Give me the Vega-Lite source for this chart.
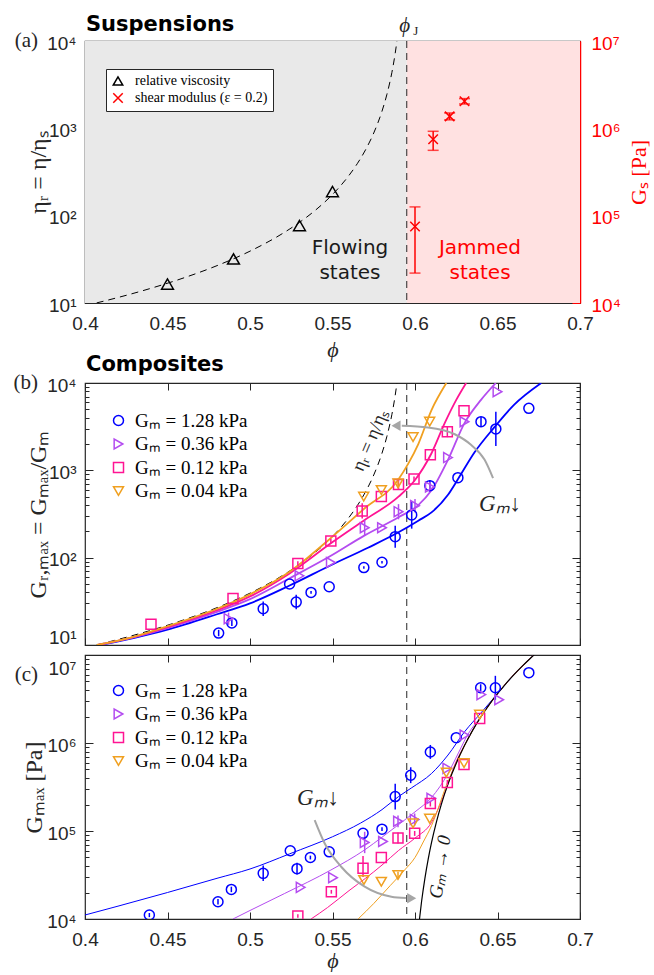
{
"$schema": "https://vega.github.io/schema/vega-lite/v6.json",
"padding": {"left": 12, "top": 13, "right": 0, "bottom": 0},
"spacing": 10,
"bounds": "flush",
"resolve": {"scale": {"color": "independent", "shape": "independent", "stroke": "independent"}},
"config": {
  "view": {"stroke": "#262626", "strokeWidth": 1.2},
  "axis": {"grid": false, "domain": false, "labelFont": "Liberation Sans", "labelFontSize": 19, "labelColor": "#262626", "tickColor": "#262626", "tickWidth": 1, "titleFont": "Liberation Serif", "titleFontSize": 24, "titleFontWeight": "normal", "titleColor": "#262626"},
  "text": {"font": "Liberation Serif"}
},
"datasets": {
  "eta": [{"phi":0.4,"v":9.31},{"phi":0.407,"v":10.02},{"phi":0.42,"v":11.56},{"phi":0.44,"v":14.74},{"phi":0.46,"v":19.43},{"phi":0.48,"v":26.77},{"phi":0.5,"v":39.23},{"phi":0.52,"v":62.94},{"phi":0.53,"v":83.8},{"phi":0.54,"v":117},{"phi":0.55,"v":174.8},{"phi":0.56,"v":289},{"phi":0.565,"v":393.4},{"phi":0.57,"v":566.4},{"phi":0.575,"v":885},{"phi":0.58,"v":1573},{"phi":0.583,"v":2458},{"phi":0.586,"v":4370},{"phi":0.588,"v":7225},{"phi":0.589,"v":9834},{"phi":0.5892,"v":10520}],
  "visc": [{"phi":0.45,"v":16.5,"series":"relative viscosity"},{"phi":0.49,"v":32,"series":"relative viscosity"},{"phi":0.53,"v":77,"series":"relative viscosity"},{"phi":0.55,"v":189,"series":"relative viscosity"}],
  "gs": [{"phi":0.6,"v":75000,"lo":22000,"hi":126000,"series":"shear modulus (ε = 0.2)"},{"phi":0.611,"v":750000,"lo":560000,"hi":925000,"series":"shear modulus (ε = 0.2)"},{"phi":0.621,"v":1370000,"lo":1250000,"hi":1500000,"series":"shear modulus (ε = 0.2)"},{"phi":0.63,"v":2040000,"lo":1900000,"hi":2190000,"series":"shear modulus (ε = 0.2)"}],
  "bPts": [
    {"g":"1.28","phi":0.481,"v":13.7,"lo":12.6,"hi":14.9},{"g":"1.28","phi":0.489,"v":17.9,"lo":16.5,"hi":19.4},{"g":"1.28","phi":0.508,"v":26,"lo":21.5,"hi":31.5},{"g":"1.28","phi":0.524,"v":50},{"g":"1.28","phi":0.528,"v":31,"lo":25.6,"hi":37.5},{"g":"1.28","phi":0.537,"v":40,"lo":38.5,"hi":41.5},{"g":"1.28","phi":0.548,"v":46.5},{"g":"1.28","phi":0.569,"v":77,"lo":74.5,"hi":79.5},{"g":"1.28","phi":0.58,"v":88.5,"lo":85.5,"hi":91.5},{"g":"1.28","phi":0.588,"v":174,"lo":130,"hi":232},{"g":"1.28","phi":0.598,"v":309,"lo":215,"hi":440},{"g":"1.28","phi":0.609,"v":668,"lo":580,"hi":770},{"g":"1.28","phi":0.626,"v":824},{"g":"1.28","phi":0.64,"v":3610,"lo":3200,"hi":4070},{"g":"1.28","phi":0.649,"v":2980,"lo":1900,"hi":4700},{"g":"1.28","phi":0.669,"v":5130},
    {"g":"0.36","phi":0.487,"v":20,"lo":17,"hi":23.5},{"g":"0.36","phi":0.53,"v":62},{"g":"0.36","phi":0.549,"v":88},{"g":"0.36","phi":0.5695,"v":220,"lo":180,"hi":268},{"g":"0.36","phi":0.58,"v":220},{"g":"0.36","phi":0.59,"v":336,"lo":275,"hi":410},{"g":"0.36","phi":0.6,"v":394,"lo":330,"hi":470},{"g":"0.36","phi":0.609,"v":645,"lo":565,"hi":735},{"g":"0.36","phi":0.62,"v":1400},{"g":"0.36","phi":0.63,"v":3600},{"g":"0.36","phi":0.65,"v":7950},
    {"g":"0.12","phi":0.44,"v":17.3},{"g":"0.12","phi":0.4897,"v":34},{"g":"0.12","phi":0.529,"v":86,"lo":81,"hi":91},{"g":"0.12","phi":0.549,"v":155,"lo":146,"hi":165},{"g":"0.12","phi":0.568,"v":343,"lo":280,"hi":420},{"g":"0.12","phi":0.5796,"v":500},{"g":"0.12","phi":0.59,"v":690,"lo":600,"hi":795},{"g":"0.12","phi":0.5994,"v":795,"lo":745,"hi":850},{"g":"0.12","phi":0.6093,"v":1510},{"g":"0.12","phi":0.6196,"v":2770,"lo":2400,"hi":3200},{"g":"0.12","phi":0.6297,"v":4800},
    {"g":"0.04","phi":0.5689,"v":500},{"g":"0.04","phi":0.5796,"v":596},{"g":"0.04","phi":0.5897,"v":710,"lo":625,"hi":805},{"g":"0.04","phi":0.5988,"v":2400},{"g":"0.04","phi":0.6089,"v":3610}
  ],
  "bCurves": [
    {"g":"1.28","phi":0.409,"v":10},{"g":"1.28","phi":0.43,"v":12.1},{"g":"1.28","phi":0.45,"v":15},{"g":"1.28","phi":0.48,"v":22.5},{"g":"1.28","phi":0.5,"v":30},{"g":"1.28","phi":0.524,"v":48},{"g":"1.28","phi":0.549,"v":82},{"g":"1.28","phi":0.5715,"v":130},{"g":"1.28","phi":0.59,"v":195},{"g":"1.28","phi":0.602,"v":265},{"g":"1.28","phi":0.61,"v":330},{"g":"1.28","phi":0.62,"v":525},{"g":"1.28","phi":0.626,"v":790},{"g":"1.28","phi":0.636,"v":1600},{"g":"1.28","phi":0.648,"v":3100},{"g":"1.28","phi":0.66,"v":5620},{"g":"1.28","phi":0.6765,"v":10000},
    {"g":"0.36","phi":0.408,"v":10},{"g":"0.36","phi":0.43,"v":12.3},{"g":"0.36","phi":0.45,"v":15.6},{"g":"0.36","phi":0.48,"v":24},{"g":"0.36","phi":0.5,"v":33.5},{"g":"0.36","phi":0.524,"v":58},{"g":"0.36","phi":0.549,"v":105},{"g":"0.36","phi":0.5695,"v":180},{"g":"0.36","phi":0.59,"v":290},{"g":"0.36","phi":0.602,"v":400},{"g":"0.36","phi":0.61,"v":590},{"g":"0.36","phi":0.62,"v":1320},{"g":"0.36","phi":0.63,"v":3470},{"g":"0.36","phi":0.64,"v":6400},{"g":"0.36","phi":0.649,"v":10000},
    {"g":"0.12","phi":0.4075,"v":10},{"g":"0.12","phi":0.43,"v":12.4},{"g":"0.12","phi":0.45,"v":16},{"g":"0.12","phi":0.48,"v":25},{"g":"0.12","phi":0.5,"v":36},{"g":"0.12","phi":0.524,"v":66},{"g":"0.12","phi":0.549,"v":146},{"g":"0.12","phi":0.5695,"v":270},{"g":"0.12","phi":0.59,"v":500},{"g":"0.12","phi":0.6,"v":775},{"g":"0.12","phi":0.61,"v":1570},{"g":"0.12","phi":0.618,"v":3470},{"g":"0.12","phi":0.625,"v":6400},{"g":"0.12","phi":0.631,"v":10000},
    {"g":"0.04","phi":0.4072,"v":10},{"g":"0.04","phi":0.43,"v":12.5},{"g":"0.04","phi":0.45,"v":16.4},{"g":"0.04","phi":0.48,"v":26},{"g":"0.04","phi":0.5,"v":38},{"g":"0.04","phi":0.524,"v":69},{"g":"0.04","phi":0.549,"v":168},{"g":"0.04","phi":0.5695,"v":368},{"g":"0.04","phi":0.5897,"v":775},{"g":"0.04","phi":0.596,"v":1200},{"g":"0.04","phi":0.602,"v":2000},{"g":"0.04","phi":0.61,"v":4900},{"g":"0.04","phi":0.619,"v":10000}
  ],
  "cPts": [
    {"g":"1.28","phi":0.439,"v":11100,"lo":10500,"hi":11700},{"g":"1.28","phi":0.4806,"v":15700,"lo":14600,"hi":16900},{"g":"1.28","phi":0.4887,"v":21700,"lo":20200,"hi":23300},{"g":"1.28","phi":0.508,"v":33000,"lo":27000,"hi":40500},{"g":"1.28","phi":0.5244,"v":59700},{"g":"1.28","phi":0.5285,"v":37300,"lo":32000,"hi":43500},{"g":"1.28","phi":0.5366,"v":50000,"lo":47500,"hi":52500},{"g":"1.28","phi":0.548,"v":58000},{"g":"1.28","phi":0.5685,"v":94000},{"g":"1.28","phi":0.58,"v":105000,"lo":100000,"hi":110000},{"g":"1.28","phi":0.588,"v":246000,"lo":175000,"hi":345000},{"g":"1.28","phi":0.5974,"v":430000,"lo":350000,"hi":530000},{"g":"1.28","phi":0.6093,"v":790000,"lo":660000,"hi":950000},{"g":"1.28","phi":0.625,"v":1150000},{"g":"1.28","phi":0.6398,"v":4250000,"lo":3900000,"hi":4650000},{"g":"1.28","phi":0.6487,"v":4250000,"lo":3100000,"hi":5800000},{"g":"1.28","phi":0.669,"v":6300000},
    {"g":"0.36","phi":0.5307,"v":22900},{"g":"0.36","phi":0.5503,"v":29500},{"g":"0.36","phi":0.5695,"v":74000,"lo":56000,"hi":98000},{"g":"0.36","phi":0.5806,"v":76000},{"g":"0.36","phi":0.5897,"v":129000,"lo":110000,"hi":150000},{"g":"0.36","phi":0.5998,"v":135000,"lo":115000,"hi":158000},{"g":"0.36","phi":0.6099,"v":235000},{"g":"0.36","phi":0.6196,"v":515000},{"g":"0.36","phi":0.63,"v":1230000},{"g":"0.36","phi":0.6402,"v":3550000},{"g":"0.36","phi":0.651,"v":3100000},
    {"g":"0.12","phi":0.529,"v":10800,"lo":10300,"hi":11300},{"g":"0.12","phi":0.5493,"v":20400,"lo":19400,"hi":21400},{"g":"0.12","phi":0.5685,"v":37700,"lo":30000,"hi":52000},{"g":"0.12","phi":0.5796,"v":50000},{"g":"0.12","phi":0.5897,"v":83000,"lo":72000,"hi":96000},{"g":"0.12","phi":0.5998,"v":94000,"lo":88000,"hi":100000},{"g":"0.12","phi":0.6093,"v":205000,"lo":190000,"hi":220000},{"g":"0.12","phi":0.6196,"v":355000,"lo":330000,"hi":380000},{"g":"0.12","phi":0.6297,"v":570000},{"g":"0.12","phi":0.6392,"v":1900000},
    {"g":"0.04","phi":0.569,"v":27700},{"g":"0.04","phi":0.5796,"v":26500},{"g":"0.04","phi":0.5897,"v":31600,"lo":29000,"hi":34500},{"g":"0.04","phi":0.5988,"v":122000},{"g":"0.04","phi":0.6089,"v":138000},{"g":"0.04","phi":0.619,"v":460000},{"g":"0.04","phi":0.6297,"v":590000},{"g":"0.04","phi":0.6392,"v":2100000}
  ],
  "cCurves": [
    {"g":"1.28","phi":0.4,"v":11100},{"g":"1.28","phi":0.42,"v":14000},{"g":"1.28","phi":0.45,"v":20000},{"g":"1.28","phi":0.48,"v":29000},{"g":"1.28","phi":0.5,"v":37000},{"g":"1.28","phi":0.524,"v":55000},{"g":"1.28","phi":0.55,"v":86000},{"g":"1.28","phi":0.567,"v":123000},{"g":"1.28","phi":0.58,"v":175000},{"g":"1.28","phi":0.59,"v":246000},{"g":"1.28","phi":0.598,"v":310000},{"g":"1.28","phi":0.61,"v":450000},{"g":"1.28","phi":0.62,"v":730000},{"g":"1.28","phi":0.63,"v":1340000},{"g":"1.28","phi":0.64,"v":2200000},{"g":"1.28","phi":0.65,"v":3630000},{"g":"1.28","phi":0.66,"v":5990000},{"g":"1.28","phi":0.665,"v":7480000},{"g":"1.28","phi":0.67,"v":9200000},{"g":"1.28","phi":0.6725,"v":10150000},
    {"g":"0.36","phi":0.4897,"v":10000},{"g":"0.36","phi":0.5,"v":12500},{"g":"0.36","phi":0.521,"v":19500},{"g":"0.36","phi":0.549,"v":36000},{"g":"0.36","phi":0.5695,"v":61000},{"g":"0.36","phi":0.58,"v":85000},{"g":"0.36","phi":0.59,"v":118000},{"g":"0.36","phi":0.6,"v":165000},{"g":"0.36","phi":0.61,"v":240000},{"g":"0.36","phi":0.62,"v":450000},{"g":"0.36","phi":0.626,"v":750000},{"g":"0.36","phi":0.632,"v":1250000},{"g":"0.36","phi":0.64,"v":2000000},{"g":"0.36","phi":0.645,"v":2730000},{"g":"0.36","phi":0.65,"v":3630000},{"g":"0.36","phi":0.66,"v":5990000},{"g":"0.36","phi":0.665,"v":7480000},{"g":"0.36","phi":0.67,"v":9200000},{"g":"0.36","phi":0.6725,"v":10150000},
    {"g":"0.12","phi":0.537,"v":10000},{"g":"0.12","phi":0.547,"v":13500},{"g":"0.12","phi":0.56,"v":21000},{"g":"0.12","phi":0.57,"v":29000},{"g":"0.12","phi":0.58,"v":41000},{"g":"0.12","phi":0.59,"v":60000},{"g":"0.12","phi":0.6,"v":83000},{"g":"0.12","phi":0.61,"v":125000},{"g":"0.12","phi":0.618,"v":270000},{"g":"0.12","phi":0.624,"v":560000},{"g":"0.12","phi":0.63,"v":940000},{"g":"0.12","phi":0.635,"v":1400000},{"g":"0.12","phi":0.64,"v":1990000},{"g":"0.12","phi":0.645,"v":2730000},{"g":"0.12","phi":0.65,"v":3630000},{"g":"0.12","phi":0.66,"v":5990000},{"g":"0.12","phi":0.665,"v":7480000},{"g":"0.12","phi":0.67,"v":9200000},{"g":"0.12","phi":0.6725,"v":10150000},
    {"g":"0.04","phi":0.5655,"v":10000},{"g":"0.04","phi":0.575,"v":15000},{"g":"0.04","phi":0.585,"v":24000},{"g":"0.04","phi":0.5937,"v":36000},{"g":"0.04","phi":0.6,"v":50000},{"g":"0.04","phi":0.605,"v":75000},{"g":"0.04","phi":0.61,"v":115000},{"g":"0.04","phi":0.614,"v":180000},{"g":"0.04","phi":0.619,"v":330000},{"g":"0.04","phi":0.625,"v":589000},{"g":"0.04","phi":0.63,"v":935000},{"g":"0.04","phi":0.635,"v":1400000},{"g":"0.04","phi":0.64,"v":1990000},{"g":"0.04","phi":0.645,"v":2730000},{"g":"0.04","phi":0.65,"v":3630000},{"g":"0.04","phi":0.66,"v":5990000},{"g":"0.04","phi":0.665,"v":7480000},{"g":"0.04","phi":0.67,"v":9200000},{"g":"0.04","phi":0.6725,"v":10150000}
  ],
  "black": [{"phi":0.6025,"v":9200},{"phi":0.604,"v":15900},{"phi":0.606,"v":29000},{"phi":0.608,"v":47900},{"phi":0.61,"v":73600},{"phi":0.613,"v":127000},{"phi":0.616,"v":202000},{"phi":0.62,"v":341000},{"phi":0.625,"v":589000},{"phi":0.63,"v":935000},{"phi":0.635,"v":1400000},{"phi":0.64,"v":1990000},{"phi":0.645,"v":2730000},{"phi":0.65,"v":3630000},{"phi":0.655,"v":4710000},{"phi":0.66,"v":5990000},{"phi":0.665,"v":7480000},{"phi":0.67,"v":9200000},{"phi":0.6725,"v":10150000}]
},
"vconcat": [
 {
  "width": 495, "height": 262,
  "resolve": {"scale": {"y": "independent"}, "axis": {"x": "independent", "y": "independent"}},
  "layer": [
     {"data": {"values": [{"a": 0.4, "b": 0.595}]}, "mark": {"type": "rect", "color": "#e9e9e9"}, "encoding": {"x": {"field": "a", "type": "quantitative", "scale": {"domain": [0.4, 0.7], "nice": false}, "axis": null}, "x2": {"field": "b"}}},
     {"data": {"values": [{"a": 0.595, "b": 0.7}]}, "mark": {"type": "rect", "color": "#ffe1e1"}, "encoding": {"x": {"field": "a", "type": "quantitative", "scale": {"domain": [0.4, 0.7], "nice": false}, "axis": null}, "x2": {"field": "b"}}},
     {"data": {"values": [{"a": 0.595}]}, "mark": {"type": "rule", "strokeDash": [7, 5], "color": "#262626", "strokeWidth": 1}, "encoding": {"x": {"field": "a", "type": "quantitative", "scale": {"domain": [0.4, 0.7], "nice": false}, "axis": {"orient": "bottom", "values": [0.4,0.45,0.5,0.55,0.6,0.65,0.7], "format": ".2~f", "tickSize": -7, "labelPadding": 18, "labelFlush": false, "labelOverlap": false, "title": "ϕ", "titleFontSize": 22, "titleFontStyle": "italic", "titlePadding": 6}}}},
     {"data": {"name": "eta"}, "mark": {"type": "line", "strokeDash": [7, 5], "color": "#000000", "strokeWidth": 1, "clip": true, "interpolate": "monotone"}, "encoding": {"x": {"field": "phi", "type": "quantitative", "scale": {"domain": [0.4, 0.7], "nice": false}, "axis": null}, "y": {"field": "v", "type": "quantitative", "scale": {"type": "log", "domain": [10, 10000], "nice": false}, "axis": {"orient": "left", "values": [10,20,30,40,50,60,70,80,90,100,200,300,400,500,600,700,800,900,1000,2000,3000,4000,5000,6000,7000,8000,9000,10000], "labelExpr": "datum.value==10?'10¹':datum.value==100?'10²':datum.value==1000?'10³':datum.value==10000?'10⁴':''", "tickSize": {"condition": {"test": "indexof([10,100,1000,10000,100000,1000000,10000000], datum.value) >= 0", "value": -8}, "value": -4}, "labelPadding": 17, "labelOverlap": false, "labelFlush": false, "labelOffset": 2, "title": "ηᵣ = η/ηₛ", "titlePadding": -4}}}},
     {"data": {"name": "visc"}, "mark": {"type": "point", "filled": false, "strokeWidth": 1.5, "size": 140, "opacity": 1}, "encoding": {"x": {"field": "phi", "type": "quantitative", "scale": {"domain": [0.4, 0.7], "nice": false}, "axis": null}, "y": {"field": "v", "type": "quantitative", "scale": {"type": "log", "domain": [10, 10000], "nice": false}, "axis": null},
       "color": {"field": "series", "type": "nominal", "scale": {"domain": ["relative viscosity", "shear modulus (ε = 0.2)"], "range": ["#000000", "#ff0000"]}, "legend": {"orient": "none", "legendX": 21, "legendY": 28, "title": null, "labelFont": "Liberation Serif", "labelFontSize": 14, "labelColor": "#000000", "symbolSize": 90, "symbolStrokeWidth": 1.5, "rowPadding": 1, "padding": 5, "strokeColor": "#262626", "fillColor": "#ffffff", "labelOffset": 10}},
       "shape": {"field": "series", "type": "nominal", "scale": {"domain": ["relative viscosity", "shear modulus (ε = 0.2)"], "range": ["triangle-up", "M-1,-1L1,1M-1,1L1,-1"]}, "legend": {"orient": "none", "legendX": 21, "legendY": 28, "title": null, "labelFont": "Liberation Serif", "labelFontSize": 14, "labelColor": "#000000", "symbolSize": 90, "symbolStrokeWidth": 1.5, "rowPadding": 1, "padding": 5, "strokeColor": "#262626", "fillColor": "#ffffff", "labelOffset": 10}}}},
     {"data": {"values": [{"phi": 0.5606, "v": 43, "t": "Flowing\nstates", "c": "f"}, {"phi": 0.6394, "v": 43, "t": "Jammed\nstates", "c": "j"}]}, "mark": {"type": "text", "font": "DejaVu Sans", "fontSize": 20, "lineBreak": "\n", "lineHeight": 25, "align": "center", "baseline": "middle"}, "encoding": {"x": {"field": "phi", "type": "quantitative", "scale": {"domain": [0.4, 0.7], "nice": false}, "axis": null}, "y": {"field": "v", "type": "quantitative", "scale": {"type": "log", "domain": [10, 10000], "nice": false}, "axis": null}, "text": {"field": "t"}, "fill": {"field": "c", "type": "nominal", "scale": {"domain": ["f", "j"], "range": ["#1a1a1a", "#ff0000"]}, "legend": null}}},
     {"data": {"values": [{"phi": 0.4, "v": 10000, "t": "(a)"}]}, "mark": {"type": "text", "fontSize": 21, "align": "right", "baseline": "middle", "dx": -47, "color": "#262626"}, "encoding": {"x": {"field": "phi", "type": "quantitative", "scale": {"domain": [0.4, 0.7], "nice": false}, "axis": null}, "y": {"field": "v", "type": "quantitative", "scale": {"type": "log", "domain": [10, 10000], "nice": false}, "axis": null}, "text": {"field": "t"}}},
     {"data": {"values": [{"phi": 0.4, "v": 13060, "t": "Suspensions"}]}, "mark": {"type": "text", "font": "DejaVu Sans", "fontWeight": "bold", "fontSize": 21, "align": "left", "baseline": "alphabetic", "dx": 1, "color": "#000000"}, "encoding": {"x": {"field": "phi", "type": "quantitative", "scale": {"domain": [0.4, 0.7], "nice": false}, "axis": null}, "y": {"field": "v", "type": "quantitative", "scale": {"type": "log", "domain": [10, 10000], "nice": false}, "axis": null}, "text": {"field": "t"}}},
     {"data": {"values": [{"phi": 0.595, "v": 14900, "t": "ϕ"}]}, "mark": {"type": "text", "fontSize": 21, "fontStyle": "italic", "align": "center", "baseline": "middle", "dx": -2, "color": "#262626"}, "encoding": {"x": {"field": "phi", "type": "quantitative", "scale": {"domain": [0.4, 0.7], "nice": false}, "axis": null}, "y": {"field": "v", "type": "quantitative", "scale": {"type": "log", "domain": [10, 10000], "nice": false}, "axis": null}, "text": {"field": "t"}}},
     {"data": {"values": [{"phi": 0.595, "v": 14900, "t": "J"}]}, "mark": {"type": "text", "fontSize": 13, "align": "center", "baseline": "middle", "dx": 9, "dy": 5, "color": "#262626"}, "encoding": {"x": {"field": "phi", "type": "quantitative", "scale": {"domain": [0.4, 0.7], "nice": false}, "axis": null}, "y": {"field": "v", "type": "quantitative", "scale": {"type": "log", "domain": [10, 10000], "nice": false}, "axis": null}, "text": {"field": "t"}}},
     {"data": {"name": "gs"}, "mark": {"type": "errorbar", "ticks": {"size": 11}, "color": "#ff0000", "thickness": 1.5}, "encoding": {"x": {"field": "phi", "type": "quantitative", "scale": {"domain": [0.4, 0.7], "nice": false}, "axis": null}, "y": {"field": "lo", "type": "quantitative", "scale": {"type": "log", "domain": [10000, 10000000], "nice": false}, "axis": null}, "y2": {"field": "hi"}}},
     {"data": {"name": "gs"}, "mark": {"type": "point", "filled": false, "strokeWidth": 1.5, "size": 90, "opacity": 1}, "encoding": {"x": {"field": "phi", "type": "quantitative", "scale": {"domain": [0.4, 0.7], "nice": false}, "axis": {"orient": "top", "values": [0.4,0.45,0.5,0.55,0.6,0.65,0.7], "labels": false, "tickSize": -7, "title": null}}, "y": {"field": "v", "type": "quantitative", "scale": {"type": "log", "domain": [10000, 10000000], "nice": false}, "axis": {"orient": "right", "values": [10000,20000,30000,40000,50000,60000,70000,80000,90000,100000,200000,300000,400000,500000,600000,700000,800000,900000,1000000,2000000,3000000,4000000,5000000,6000000,7000000,8000000,9000000,10000000], "labelExpr": "datum.value==10000?'10⁴':datum.value==100000?'10⁵':datum.value==1000000?'10⁶':datum.value==10000000?'10⁷':''", "tickSize": {"condition": {"test": "indexof([10,100,1000,10000,100000,1000000,10000000], datum.value) >= 0", "value": -8}, "value": -4}, "labelPadding": 19, "labelOverlap": false, "labelFlush": false, "labelOffset": 2, "labelColor": "#ff0000", "tickColor": "#ff0000", "domain": true, "domainColor": "#ff0000", "domainWidth": 1.5, "title": "Gₛ [Pa]", "titleFontSize": 22, "titleColor": "#ff0000", "titleAngle": 270, "titleBaseline": "top", "titlePadding": 8}},
       "color": {"field": "series", "type": "nominal", "scale": {"domain": ["relative viscosity", "shear modulus (ε = 0.2)"], "range": ["#000000", "#ff0000"]}, "legend": {"orient": "none", "legendX": 21, "legendY": 28, "title": null, "labelFont": "Liberation Serif", "labelFontSize": 14, "labelColor": "#000000", "symbolSize": 90, "symbolStrokeWidth": 1.5, "rowPadding": 1, "padding": 5, "strokeColor": "#262626", "fillColor": "#ffffff", "labelOffset": 10}},
       "shape": {"field": "series", "type": "nominal", "scale": {"domain": ["relative viscosity", "shear modulus (ε = 0.2)"], "range": ["triangle-up", "M-1,-1L1,1M-1,1L1,-1"]}, "legend": {"orient": "none", "legendX": 21, "legendY": 28, "title": null, "labelFont": "Liberation Serif", "labelFontSize": 14, "labelColor": "#000000", "symbolSize": 90, "symbolStrokeWidth": 1.5, "rowPadding": 1, "padding": 5, "strokeColor": "#262626", "fillColor": "#ffffff", "labelOffset": 10}}}}
  ]
 },
 {
  "width": 495, "height": 60, "view": {"stroke": null},
  "data": {"values": []},
  "mark": {"type": "point", "opacity": 0},
  "encoding": {}
 },
 {
  "width": 495, "height": 262,
  "resolve": {"axis": {"x": "independent", "y": "independent"}},
  "layer": [
   {"data": {"values": [{"a": 0.595}]}, "mark": {"type": "rule", "strokeDash": [7, 5], "color": "#262626", "strokeWidth": 1}, "encoding": {"x": {"field": "a", "type": "quantitative", "scale": {"domain": [0.4, 0.7], "nice": false}, "axis": {"orient": "bottom", "values": [0.4,0.45,0.5,0.55,0.6,0.65,0.7], "labels": false, "tickSize": -7, "title": null}}}},
   {"data": {"name": "eta"}, "mark": {"type": "line", "strokeDash": [7, 5], "color": "#000000", "strokeWidth": 1, "clip": true, "interpolate": "monotone"}, "encoding": {"x": {"field": "phi", "type": "quantitative", "scale": {"domain": [0.4, 0.7], "nice": false}, "axis": {"orient": "top", "values": [0.4,0.45,0.5,0.55,0.6,0.65,0.7], "labels": false, "tickSize": -7, "title": null}}, "y": {"field": "v", "type": "quantitative", "scale": {"type": "log", "domain": [10, 10000], "nice": false}, "axis": {"orient": "right", "values": [10,20,30,40,50,60,70,80,90,100,200,300,400,500,600,700,800,900,1000,2000,3000,4000,5000,6000,7000,8000,9000,10000], "labels": false, "tickSize": {"condition": {"test": "indexof([10,100,1000,10000,100000,1000000,10000000], datum.value) >= 0", "value": -8}, "value": -4}, "title": null}}}},
   {"data": {"name": "bCurves"}, "mark": {"type": "line", "strokeWidth": 1.8, "clip": true, "interpolate": "monotone"}, "encoding": {"x": {"field": "phi", "type": "quantitative", "scale": {"domain": [0.4, 0.7], "nice": false}, "axis": null}, "y": {"field": "v", "type": "quantitative", "scale": {"type": "log", "domain": [10, 10000], "nice": false}, "axis": null}, "stroke": {"field": "g", "type": "nominal", "scale": {"domain": ["0.04", "0.12", "0.36", "1.28"], "range": ["#f0a020", "#ff1493", "#b44cf0", "#0000ff"]}, "legend": null}, "detail": {"field": "g"}}},
   {"data": {"name": "bPts"}, "mark": {"type": "rule", "strokeWidth": 1.5, "clip": true}, "encoding": {"x": {"field": "phi", "type": "quantitative", "scale": {"domain": [0.4, 0.7], "nice": false}, "axis": null}, "y": {"field": "lo", "type": "quantitative", "scale": {"type": "log", "domain": [10, 10000], "nice": false}, "axis": null}, "y2": {"field": "hi"}, "stroke": {"field": "g", "type": "nominal", "scale": {"domain": ["0.04", "0.12", "0.36", "1.28"], "range": ["#f0a020", "#ff1493", "#b44cf0", "#0000ff"]}, "legend": null}}},
   {"data": {"name": "bPts"}, "mark": {"type": "point", "filled": false, "strokeWidth": 1.5, "size": 100, "opacity": 1, "clip": true}, "encoding": {"x": {"field": "phi", "type": "quantitative", "scale": {"domain": [0.4, 0.7], "nice": false}, "axis": null}, "y": {"field": "v", "type": "quantitative", "scale": {"type": "log", "domain": [10, 10000], "nice": false}, "axis": {"orient": "left", "values": [10,20,30,40,50,60,70,80,90,100,200,300,400,500,600,700,800,900,1000,2000,3000,4000,5000,6000,7000,8000,9000,10000], "labelExpr": "datum.value==10?'10¹':datum.value==100?'10²':datum.value==1000?'10³':datum.value==10000?'10⁴':''", "tickSize": {"condition": {"test": "indexof([10,100,1000,10000,100000,1000000,10000000], datum.value) >= 0", "value": -8}, "value": -4}, "labelPadding": 17, "labelOverlap": false, "labelFlush": false, "labelOffset": {"condition": {"test": "datum.value == 10", "value": -8}, "value": 2}, "title": "Gᵣ,ₘₐₓ = Gₘₐₓ/Gₘ", "titlePadding": -4}},
     "color": {"field": "g", "type": "nominal", "scale": {"domain": ["1.28", "0.36", "0.12", "0.04"], "range": ["#0000ff", "#b44cf0", "#ff1493", "#f0a020"]}, "legend": {"orient": "none", "legendX": 24, "legendY": 28, "title": null, "labelFont": "Liberation Serif", "labelFontSize": 19, "labelColor": "#000000", "symbolSize": 100, "symbolStrokeWidth": 1.5, "rowPadding": 3.5, "padding": 0, "labelOffset": 7, "labelExpr": "'Gₘ = ' + datum.label + ' kPa'"}},
     "shape": {"field": "g", "type": "nominal", "scale": {"domain": ["1.28", "0.36", "0.12", "0.04"], "range": ["circle", "triangle-right", "square", "triangle-down"]}, "legend": {"orient": "none", "legendX": 24, "legendY": 28, "title": null, "labelFont": "Liberation Serif", "labelFontSize": 19, "labelColor": "#000000", "symbolSize": 100, "symbolStrokeWidth": 1.5, "rowPadding": 3.5, "padding": 0, "labelOffset": 7, "labelExpr": "'Gₘ = ' + datum.label + ' kPa'"}}}},
   {"data": {"values": [{"phi": 0.592, "v": 3240}, {"phi": 0.6079, "v": 3100}, {"phi": 0.6241, "v": 2590}, {"phi": 0.6341, "v": 1950}, {"phi": 0.6422, "v": 1320}, {"phi": 0.6473, "v": 815}]}, "mark": {"type": "line", "color": "#a6a6a6", "strokeWidth": 2, "interpolate": "monotone"}, "encoding": {"x": {"field": "phi", "type": "quantitative", "scale": {"domain": [0.4, 0.7], "nice": false}, "axis": null}, "y": {"field": "v", "type": "quantitative", "scale": {"type": "log", "domain": [10, 10000], "nice": false}, "axis": null}}},
   {"data": {"values": [{"phi": 0.5885, "v": 3240}]}, "mark": {"type": "point", "shape": "triangle-left", "filled": true, "color": "#a6a6a6", "size": 110, "opacity": 1}, "encoding": {"x": {"field": "phi", "type": "quantitative", "scale": {"domain": [0.4, 0.7], "nice": false}, "axis": null}, "y": {"field": "v", "type": "quantitative", "scale": {"type": "log", "domain": [10, 10000], "nice": false}, "axis": null}}},
   {"data": {"values": [{"phi": 0.5727, "v": 2230, "t": "ηᵣ = η/ηₛ"}]}, "mark": {"type": "text", "fontSize": 19, "angle": -67, "align": "center", "baseline": "middle", "color": "#262626"}, "encoding": {"x": {"field": "phi", "type": "quantitative", "scale": {"domain": [0.4, 0.7], "nice": false}, "axis": null}, "y": {"field": "v", "type": "quantitative", "scale": {"type": "log", "domain": [10, 10000], "nice": false}, "axis": null}, "text": {"field": "t"}}},
   {"data": {"values": [{"phi": 0.6515, "v": 412, "t": "Gₘ↓"}]}, "mark": {"type": "text", "fontSize": 23, "fontStyle": "italic", "align": "center", "baseline": "middle", "color": "#262626"}, "encoding": {"x": {"field": "phi", "type": "quantitative", "scale": {"domain": [0.4, 0.7], "nice": false}, "axis": null}, "y": {"field": "v", "type": "quantitative", "scale": {"type": "log", "domain": [10, 10000], "nice": false}, "axis": null}, "text": {"field": "t"}}},
   {"data": {"values": [{"phi": 0.4, "v": 10000, "t": "(b)"}]}, "mark": {"type": "text", "fontSize": 21, "align": "right", "baseline": "middle", "dx": -47, "color": "#262626"}, "encoding": {"x": {"field": "phi", "type": "quantitative", "scale": {"domain": [0.4, 0.7], "nice": false}, "axis": null}, "y": {"field": "v", "type": "quantitative", "scale": {"type": "log", "domain": [10, 10000], "nice": false}, "axis": null}, "text": {"field": "t"}}},
   {"data": {"values": [{"phi": 0.4, "v": 13770, "t": "Composites"}]}, "mark": {"type": "text", "font": "DejaVu Sans", "fontWeight": "bold", "fontSize": 21, "align": "left", "baseline": "alphabetic", "dx": 1, "color": "#000000"}, "encoding": {"x": {"field": "phi", "type": "quantitative", "scale": {"domain": [0.4, 0.7], "nice": false}, "axis": null}, "y": {"field": "v", "type": "quantitative", "scale": {"type": "log", "domain": [10, 10000], "nice": false}, "axis": null}, "text": {"field": "t"}}}
  ]
 },
 {
  "width": 495, "height": 264,
  "resolve": {"axis": {"x": "independent", "y": "independent"}},
  "layer": [
   {"data": {"values": [{"a": 0.595}]}, "mark": {"type": "rule", "strokeDash": [7, 5], "color": "#262626", "strokeWidth": 1}, "encoding": {"x": {"field": "a", "type": "quantitative", "scale": {"domain": [0.4, 0.7], "nice": false}, "axis": {"orient": "bottom", "values": [0.4,0.45,0.5,0.55,0.6,0.65,0.7], "format": ".2~f", "tickSize": -7, "labelPadding": 18, "labelFlush": false, "labelOverlap": false, "title": "ϕ", "titleFontSize": 22, "titleFontStyle": "italic", "titlePadding": 1}}}},
   {"data": {"name": "cCurves"}, "mark": {"type": "line", "strokeWidth": 1, "clip": true, "interpolate": "monotone"}, "encoding": {"x": {"field": "phi", "type": "quantitative", "scale": {"domain": [0.4, 0.7], "nice": false}, "axis": null}, "y": {"field": "v", "type": "quantitative", "scale": {"type": "log", "domain": [10000, 10000000], "nice": false}, "axis": null}, "stroke": {"field": "g", "type": "nominal", "scale": {"domain": ["0.04", "0.12", "0.36", "1.28"], "range": ["#f0a020", "#ff1493", "#b44cf0", "#0000ff"]}, "legend": null}, "detail": {"field": "g"}}},
   {"data": {"name": "black"}, "mark": {"type": "line", "strokeWidth": 1.2, "color": "#000000", "clip": true, "interpolate": "monotone"}, "encoding": {"x": {"field": "phi", "type": "quantitative", "scale": {"domain": [0.4, 0.7], "nice": false}, "axis": {"orient": "top", "values": [0.4,0.45,0.5,0.55,0.6,0.65,0.7], "labels": false, "tickSize": -7, "title": null}}, "y": {"field": "v", "type": "quantitative", "scale": {"type": "log", "domain": [10000, 10000000], "nice": false}, "axis": {"orient": "right", "values": [10000,20000,30000,40000,50000,60000,70000,80000,90000,100000,200000,300000,400000,500000,600000,700000,800000,900000,1000000,2000000,3000000,4000000,5000000,6000000,7000000,8000000,9000000,10000000], "labels": false, "tickSize": {"condition": {"test": "indexof([10,100,1000,10000,100000,1000000,10000000], datum.value) >= 0", "value": -8}, "value": -4}, "title": null}}}},
   {"data": {"name": "cPts"}, "mark": {"type": "rule", "strokeWidth": 1.5, "clip": true}, "encoding": {"x": {"field": "phi", "type": "quantitative", "scale": {"domain": [0.4, 0.7], "nice": false}, "axis": null}, "y": {"field": "lo", "type": "quantitative", "scale": {"type": "log", "domain": [10000, 10000000], "nice": false}, "axis": null}, "y2": {"field": "hi"}, "stroke": {"field": "g", "type": "nominal", "scale": {"domain": ["0.04", "0.12", "0.36", "1.28"], "range": ["#f0a020", "#ff1493", "#b44cf0", "#0000ff"]}, "legend": null}}},
   {"data": {"name": "cPts"}, "mark": {"type": "point", "filled": false, "strokeWidth": 1.5, "size": 100, "opacity": 1, "clip": true}, "encoding": {"x": {"field": "phi", "type": "quantitative", "scale": {"domain": [0.4, 0.7], "nice": false}, "axis": null}, "y": {"field": "v", "type": "quantitative", "scale": {"type": "log", "domain": [10000, 10000000], "nice": false}, "axis": {"orient": "left", "values": [10000,20000,30000,40000,50000,60000,70000,80000,90000,100000,200000,300000,400000,500000,600000,700000,800000,900000,1000000,2000000,3000000,4000000,5000000,6000000,7000000,8000000,9000000,10000000], "labelExpr": "datum.value==10000?'10⁴':datum.value==100000?'10⁵':datum.value==1000000?'10⁶':datum.value==10000000?'10⁷':''", "tickSize": {"condition": {"test": "indexof([10,100,1000,10000,100000,1000000,10000000], datum.value) >= 0", "value": -8}, "value": -4}, "labelPadding": 17, "labelOverlap": false, "labelFlush": false, "labelOffset": {"condition": {"test": "datum.value == 10000000", "value": 13}, "value": 2}, "title": "Gₘₐₓ  [Pa]", "titlePadding": 0}},
     "color": {"field": "g", "type": "nominal", "scale": {"domain": ["1.28", "0.36", "0.12", "0.04"], "range": ["#0000ff", "#b44cf0", "#ff1493", "#f0a020"]}, "legend": {"orient": "none", "legendX": 24, "legendY": 26, "title": null, "labelFont": "Liberation Serif", "labelFontSize": 19, "labelColor": "#000000", "symbolSize": 100, "symbolStrokeWidth": 1.5, "rowPadding": 3.5, "padding": 0, "labelOffset": 7, "labelExpr": "'Gₘ = ' + datum.label + ' kPa'"}},
     "shape": {"field": "g", "type": "nominal", "scale": {"domain": ["1.28", "0.36", "0.12", "0.04"], "range": ["circle", "triangle-right", "square", "triangle-down"]}, "legend": {"orient": "none", "legendX": 24, "legendY": 26, "title": null, "labelFont": "Liberation Serif", "labelFontSize": 19, "labelColor": "#000000", "symbolSize": 100, "symbolStrokeWidth": 1.5, "rowPadding": 3.5, "padding": 0, "labelOffset": 7, "labelExpr": "'Gₘ = ' + datum.label + ' kPa'"}}}},
   {"data": {"values": [{"phi": 0.5392, "v": 133000}, {"phi": 0.5453, "v": 72000}, {"phi": 0.5554, "v": 39000}, {"phi": 0.5695, "v": 23300}, {"phi": 0.5857, "v": 17900}, {"phi": 0.5945, "v": 17300}]}, "mark": {"type": "line", "color": "#a6a6a6", "strokeWidth": 2, "interpolate": "monotone"}, "encoding": {"x": {"field": "phi", "type": "quantitative", "scale": {"domain": [0.4, 0.7], "nice": false}, "axis": null}, "y": {"field": "v", "type": "quantitative", "scale": {"type": "log", "domain": [10000, 10000000], "nice": false}, "axis": null}}},
   {"data": {"values": [{"phi": 0.598, "v": 17200}]}, "mark": {"type": "point", "shape": "triangle-right", "filled": true, "color": "#a6a6a6", "size": 110, "opacity": 1}, "encoding": {"x": {"field": "phi", "type": "quantitative", "scale": {"domain": [0.4, 0.7], "nice": false}, "axis": null}, "y": {"field": "v", "type": "quantitative", "scale": {"type": "log", "domain": [10000, 10000000], "nice": false}, "axis": null}}},
   {"data": {"values": [{"phi": 0.5412, "v": 237000, "t": "Gₘ↓"}]}, "mark": {"type": "text", "fontSize": 23, "fontStyle": "italic", "align": "center", "baseline": "middle", "color": "#262626"}, "encoding": {"x": {"field": "phi", "type": "quantitative", "scale": {"domain": [0.4, 0.7], "nice": false}, "axis": null}, "y": {"field": "v", "type": "quantitative", "scale": {"type": "log", "domain": [10000, 10000000], "nice": false}, "axis": null}, "text": {"field": "t"}}},
   {"data": {"values": [{"phi": 0.6152, "v": 39000, "t": "Gₘ → 0"}]}, "mark": {"type": "text", "fontSize": 19, "fontStyle": "italic", "angle": -82, "align": "center", "baseline": "middle", "color": "#1a1a1a"}, "encoding": {"x": {"field": "phi", "type": "quantitative", "scale": {"domain": [0.4, 0.7], "nice": false}, "axis": null}, "y": {"field": "v", "type": "quantitative", "scale": {"type": "log", "domain": [10000, 10000000], "nice": false}, "axis": null}, "text": {"field": "t"}}},
   {"data": {"values": [{"phi": 0.4, "v": 5930000, "t": "(c)"}]}, "mark": {"type": "text", "fontSize": 21, "align": "right", "baseline": "middle", "dx": -47, "color": "#262626"}, "encoding": {"x": {"field": "phi", "type": "quantitative", "scale": {"domain": [0.4, 0.7], "nice": false}, "axis": null}, "y": {"field": "v", "type": "quantitative", "scale": {"type": "log", "domain": [10000, 10000000], "nice": false}, "axis": null}, "text": {"field": "t"}}}
  ]
 }
]
}
